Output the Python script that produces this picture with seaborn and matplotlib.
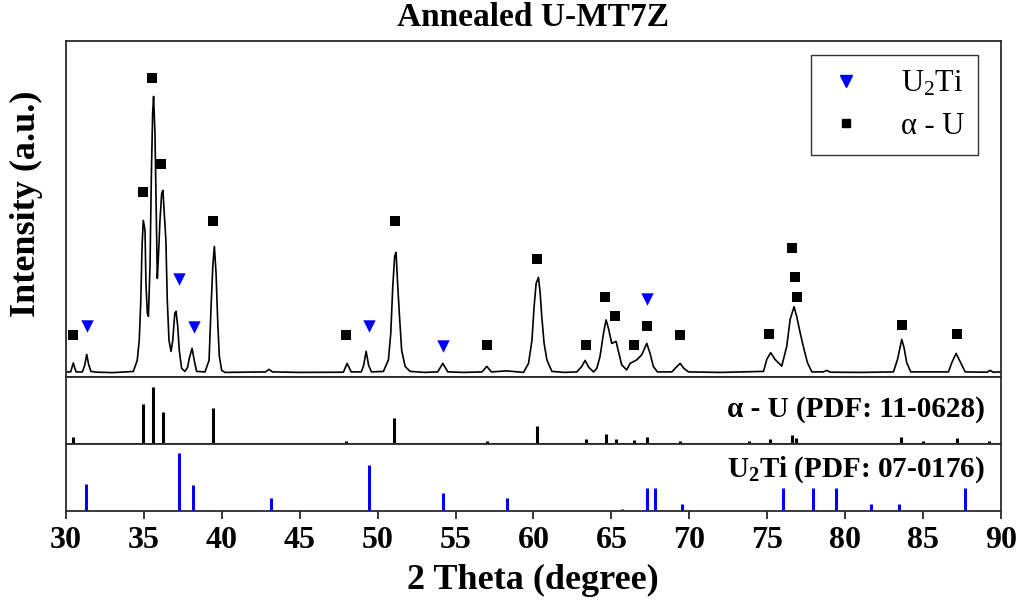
import numpy as np
import pandas as pd
import matplotlib
matplotlib.use("Agg")
import matplotlib.pyplot as plt
from matplotlib.lines import Line2D
import seaborn as sns

# ---------------- data ----------------
two_theta = [30.0, 30.3, 30.4, 30.47, 30.55, 30.65, 31.05, 31.2, 31.33, 31.45, 31.6, 32.0, 33.0, 33.9,
             34.32, 34.57, 34.70, 34.80, 34.88, 34.96, 35.07, 35.13, 35.22, 35.29, 35.39, 35.48, 35.56,
             35.62, 35.71, 35.77, 35.86, 35.94, 36.03, 36.14, 36.22, 36.31, 36.41, 36.50, 36.61, 36.74,
             36.85, 36.98, 37.06, 37.17, 37.27, 37.42, 37.63, 37.80, 37.91, 38.09, 38.23, 38.38, 38.92,
             39.18, 39.31, 39.42, 39.52, 39.63, 39.74, 39.84, 39.99, 40.2, 41.5, 42.8, 43.03, 43.25, 45.0,
             47.8, 48.04, 48.3, 48.95, 49.1, 49.26, 49.42, 49.6, 50.37, 50.69, 50.84, 50.97, 51.09, 51.18,
             51.28, 51.39, 51.54, 51.76, 52.08, 53.0, 53.85, 54.18, 54.5, 55.5, 56.7, 57.0, 57.3, 58.28,
             59.36, 59.68, 59.90, 60.04, 60.17, 60.32, 60.43, 60.53, 60.68, 60.86, 61.18, 62.0, 62.78,
             63.1, 63.31, 63.55, 63.85, 64.06, 64.27, 64.49, 64.66, 64.81, 65.02, 65.30, 65.45, 65.66,
             65.98, 66.20, 66.62, 66.94, 67.27, 67.48, 67.69, 67.95, 68.88, 69.15, 69.41, 69.65, 69.95,
             72.0, 74.76, 74.97, 75.22, 75.50, 75.93, 76.25, 76.47, 76.72, 76.89, 77.11, 77.36, 77.58,
             77.86, 78.6, 78.82, 79.05, 81.0, 83.10, 83.36, 83.63, 83.78, 83.95, 84.21, 86.63, 86.84,
             87.12, 87.37, 87.70, 89.1, 89.3, 89.5, 90.0]
intensity = [1.5, 1.5, 7, 10.5, 6, 1.5, 1.5, 8, 19, 9, 2, 1.2, 0.8, 1.5,
             2, 13, 33, 73, 127, 153, 143, 90, 60, 57, 107, 200, 260,
             277, 240, 183, 95, 120, 153, 180, 183, 160, 133, 73, 33, 22,
             33, 60, 62, 47, 23, 5, 2, 6, 15, 25, 13, 2, 1.5,
             13, 67, 107, 127, 100, 50, 17, 3, 1, 1.2, 1.5, 4, 1.5, 1,
             1.2, 10, 1.5, 1.5, 8, 22, 8, 1.5, 2, 13.5, 40, 87, 117, 121,
             90, 60, 23, 7, 2, 1, 1.5, 10, 1.5, 1, 1.5, 7, 1.5, 2.5,
             1, 10, 33, 67, 90, 96, 80, 57, 30, 13.5, 2, 1, 1.5,
             7, 13, 6, 1.5, 5, 17, 40, 53.5, 45, 30, 32, 22, 8.5,
             3.5, 10, 13.5, 18.5, 30, 20, 7, 1.5, 1.5, 6, 10, 5, 1.5,
             1, 2, 14, 20.7, 14, 7.3, 27, 54, 66.7, 57, 40.7, 24, 10.7,
             1.5, 1.5, 3, 1.2, 1, 1.5, 14, 34, 25.7, 10.7, 1.5, 1.5, 10.7,
             20, 12, 1.5, 1.2, 3, 1.2, 1.5]

# peak markers in the measured pattern
alphaU_mark_x = [30.43, 34.96, 35.54, 36.07, 39.42, 47.97, 51.12, 57.0, 60.21, 63.38, 64.56, 65.24,
                 66.42, 67.27, 69.37, 75.14, 76.58, 76.75, 76.92, 83.63, 87.16]
alphaU_mark_y = [38, 181, 295, 209, 152, 38, 152, 28.5, 114, 28.5, 76, 57.5,
                 28.5, 47.5, 38.5, 39, 125, 96, 76, 48, 39]
U2Ti_mark_x = [31.33, 37.25, 38.24, 49.47, 54.22, 67.27]
U2Ti_mark_y = [47.7, 94, 46.7, 47.7, 27.8, 74.5]

# reference patterns (relative intensity)
alphaU_ref_x = [30.43, 34.92, 35.56, 36.20, 39.41, 47.97, 51.07, 57.0, 60.2, 63.4, 64.66, 65.30,
                66.46, 67.27, 69.37, 73.86, 75.19, 76.62, 76.86, 83.6, 85.02, 87.16, 89.2]
alphaU_ref_I = [12, 71, 100, 56, 63, 6, 46, 6, 31, 8, 17, 9,
                6.5, 11.5, 5.6, 5, 9, 16, 11, 12.5, 5, 11, 5]
U2Ti_ref_x = [31.28, 37.23, 38.17, 43.16, 49.43, 54.22, 58.29, 65.67, 67.27, 67.80, 69.56,
              76.04, 77.93, 79.39, 81.67, 83.45, 87.72]
U2Ti_ref_I = [46, 100, 45, 22, 80, 32, 22, 3.5, 40, 40, 12,
              39, 39, 39, 12, 12, 39]

x_ticks = [30, 35, 40, 45, 50, 55, 60, 65, 70, 75, 80, 85, 90]

# ---------------- styling ----------------
sns.set_theme(style="white")
plt.rcParams["font.family"] = ["Liberation Serif", "DejaVu Serif"]
plt.rcParams["mathtext.fontset"] = "custom"
plt.rcParams["mathtext.rm"] = "Liberation Serif"
plt.rcParams["mathtext.bf"] = "Liberation Serif:bold"
plt.rcParams["mathtext.it"] = "Liberation Serif:italic"
plt.rcParams["mathtext.default"] = "regular"
plt.rcParams["text.color"] = "black"
plt.rcParams["axes.labelcolor"] = "black"
plt.rcParams["xtick.color"] = "black"
plt.rcParams["ytick.color"] = "black"

frame_col = "#2a2a2a"
blue = "#0000FF"

fig = plt.figure(figsize=(10.2, 6.02), dpi=100)
L, W = 66 / 1020, 935 / 1020
ax_top = fig.add_axes([L, 1 - 377 / 602, W, 336 / 602])
ax_mid = fig.add_axes([L, 1 - 444 / 602, W, 67 / 602], sharex=ax_top)
ax_bot = fig.add_axes([L, 1 - 511 / 602, W, 67 / 602], sharex=ax_top)

df = pd.DataFrame({"2theta": two_theta, "I": intensity})
sns.lineplot(data=df, x="2theta", y="I", ax=ax_top, color="black", lw=1.2,
             estimator=None, sort=False)
sns.scatterplot(x=alphaU_mark_x, y=alphaU_mark_y, ax=ax_top, marker="s", s=55,
                color="black", linewidth=0, zorder=5)
sns.scatterplot(x=U2Ti_mark_x, y=U2Ti_mark_y, ax=ax_top, marker="v", s=80,
                color=blue, linewidth=0, zorder=5)
ax_top.set_ylim(-3.6, 332.4)

ax_mid.vlines(alphaU_ref_x, 0, alphaU_ref_I, color="black", lw=2.2)
ax_mid.set_ylim(0, 118)
ax_bot.vlines(U2Ti_ref_x, 0, U2Ti_ref_I, color=blue, lw=2.2)
ax_bot.set_ylim(0, 116)

for ax in (ax_top, ax_mid, ax_bot):
    ax.set_xlim(30, 90)
    ax.set_xlabel("")
    ax.set_ylabel("")
    ax.set_yticks([])
    for sp in ax.spines.values():
        sp.set_visible(True)
        sp.set_color(frame_col)
        sp.set_linewidth(1.3)
    ax.grid(False)
    ax.set_facecolor("white")

ax_top.tick_params(axis="x", bottom=False, labelbottom=False)
ax_mid.tick_params(axis="x", bottom=False, labelbottom=False)
ax_bot.set_xticks(x_ticks)
ax_bot.set_xticklabels([str(t) for t in x_ticks], fontsize=23, fontweight="bold",
                       color="black")
ax_bot.tick_params(axis="x", bottom=True, direction="out", length=6, width=1.3,
                   color=frame_col, pad=5)

ax_mid.text(0.983, 0.52, "α - U (PDF: 11-0628)", transform=ax_mid.transAxes,
            ha="right", va="center", fontsize=21, fontweight="bold", color="black")
ax_bot.text(0.983, 0.62, r"$\mathbf{U_2Ti}$ (PDF: 07-0176)", transform=ax_bot.transAxes,
            ha="right", va="center", fontsize=21, fontweight="bold", color="black")

handles = [Line2D([], [], ls="none", marker="v", color=blue, ms=8, mec=blue),
           Line2D([], [], ls="none", marker="s", color="black", ms=6)]
leg = ax_top.legend(handles, ["U$_2$Ti", "α - U"], loc="upper right",
                    bbox_to_anchor=((978 - 66) / 935, 1 - (55 - 41) / 336),
                    borderaxespad=0, frameon=True, fancybox=False, prop={"size": 22},
                    handlelength=1.4, handletextpad=1.1, borderpad=0.45, labelspacing=0.45,
                    labelcolor="black")
leg.get_frame().set_edgecolor("black")
leg.get_frame().set_linewidth(1.0)

fig.text(533 / 1020, 1 - 18 / 602, "Annealed U-MT7Z", ha="center", va="center",
         fontsize=24, fontweight="bold", color="black")
fig.text(533 / 1020, 1 - 580 / 602, "2 Theta (degree)", ha="center", va="center",
         fontsize=26, fontweight="bold", color="black")
fig.text(26 / 1020, 1 - 204 / 602, "Intensity (a.u.)", ha="center", va="center",
         rotation=90, fontsize=26, fontweight="bold", color="black")

fig.savefig("out.png", dpi=100)
